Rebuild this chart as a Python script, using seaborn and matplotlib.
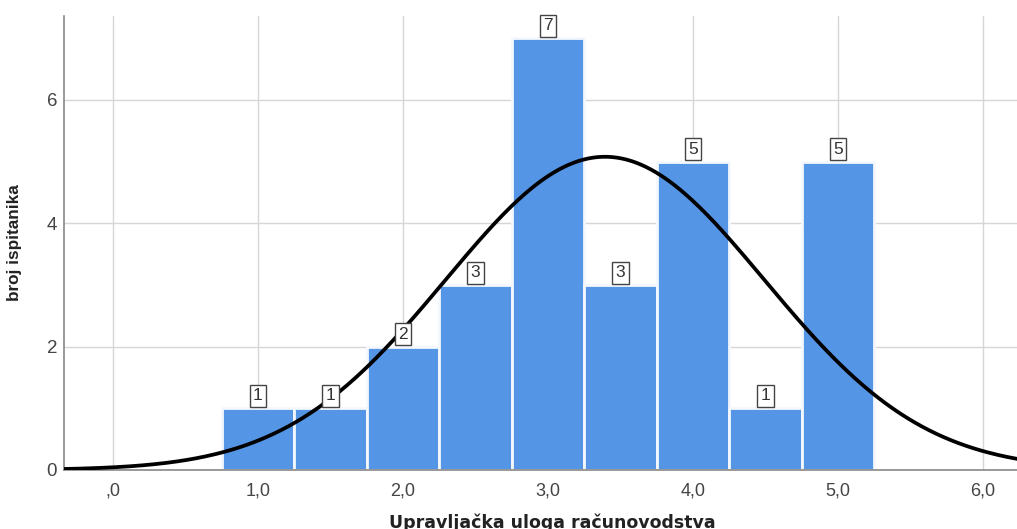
import numpy as np
import pandas as pd
import matplotlib
matplotlib.use("Agg")
import matplotlib.pyplot as plt
import seaborn as sns

# histogram data
bin_centers = [1.0, 1.5, 2.0, 2.5, 3.0, 3.5, 4.0, 4.5, 5.0]
counts = [1, 1, 2, 3, 7, 3, 5, 1, 5]
bin_width = 0.5
x_ticks = [0, 1, 2, 3, 4, 5, 6]
x_tick_labels = [",0", "1,0", "2,0", "3,0", "4,0", "5,0", "6,0"]
y_ticks = [0, 2, 4, 6]

sns.set_style("white")
plt.rcParams['font.family'] = ['Liberation Sans', 'DejaVu Sans']

df = pd.DataFrame({"vrijednost": bin_centers, "broj": counts})

fig = plt.figure(figsize=(10.17, 5.29), dpi=100)
ax = fig.add_axes([64 / 1017, (529 - 470) / 529, 1 - 64 / 1017, (470 - 16) / 529])

sns.histplot(data=df, x="vrijednost", weights="broj", binwidth=bin_width,
             binrange=(min(bin_centers) - bin_width / 2, max(bin_centers) + bin_width / 2),
             ax=ax, color="#5595e5", alpha=1, edgecolor="#f4f8fd", linewidth=2.0, zorder=2)

# normal curve fitted to the data
vals = np.repeat(bin_centers, counts)
mu = vals.mean()
sd = vals.std(ddof=1)
xs = np.linspace(-0.4, 6.3, 400)
ys = len(vals) * bin_width * np.exp(-0.5 * ((xs - mu) / sd) ** 2) / (sd * np.sqrt(2 * np.pi))
sns.lineplot(x=xs, y=ys, ax=ax, color="black", linewidth=2.7, zorder=4)

ax.bar_label(ax.containers[0], labels=[str(c) for c in counts], padding=3.5,
             fontsize=12.5, color="#333333", zorder=5,
             bbox=dict(boxstyle="square,pad=0.2", fc="white", ec="#444444", lw=1.0))

ax.set_xlim((64 - 113) / 145, (1017 - 113) / 145)
ax.set_ylim(0, (470 - 16) / 61.7)
ax.set_xticks(x_ticks)
ax.set_xticklabels(x_tick_labels)
ax.set_yticks(y_ticks)
ax.tick_params(axis="x", length=0, labelsize=13, colors="#444444", pad=9)
ax.tick_params(axis="y", length=0, labelsize=13.5, colors="#444444", pad=5)
ax.grid(True, color="#d6d6d6", linewidth=1, zorder=0)
ax.set_axisbelow(True)
for s in ["top", "right"]:
    ax.spines[s].set_visible(False)
for s in ["left", "bottom"]:
    ax.spines[s].set_color("#888888")
    ax.spines[s].set_linewidth(1.2)

ax.set_xlabel("Upravljačka uloga računovodstva", fontsize=12.5, fontweight="bold",
              color="#222222", family=["DejaVu Sans"])
ax.xaxis.set_label_coords((552 - 64) / 953, (470 - 514) / 454)
ax.set_ylabel("broj ispitanika", fontsize=12.3, fontweight="bold", color="#222222", labelpad=18)

fig.savefig("out.png", dpi=100)
